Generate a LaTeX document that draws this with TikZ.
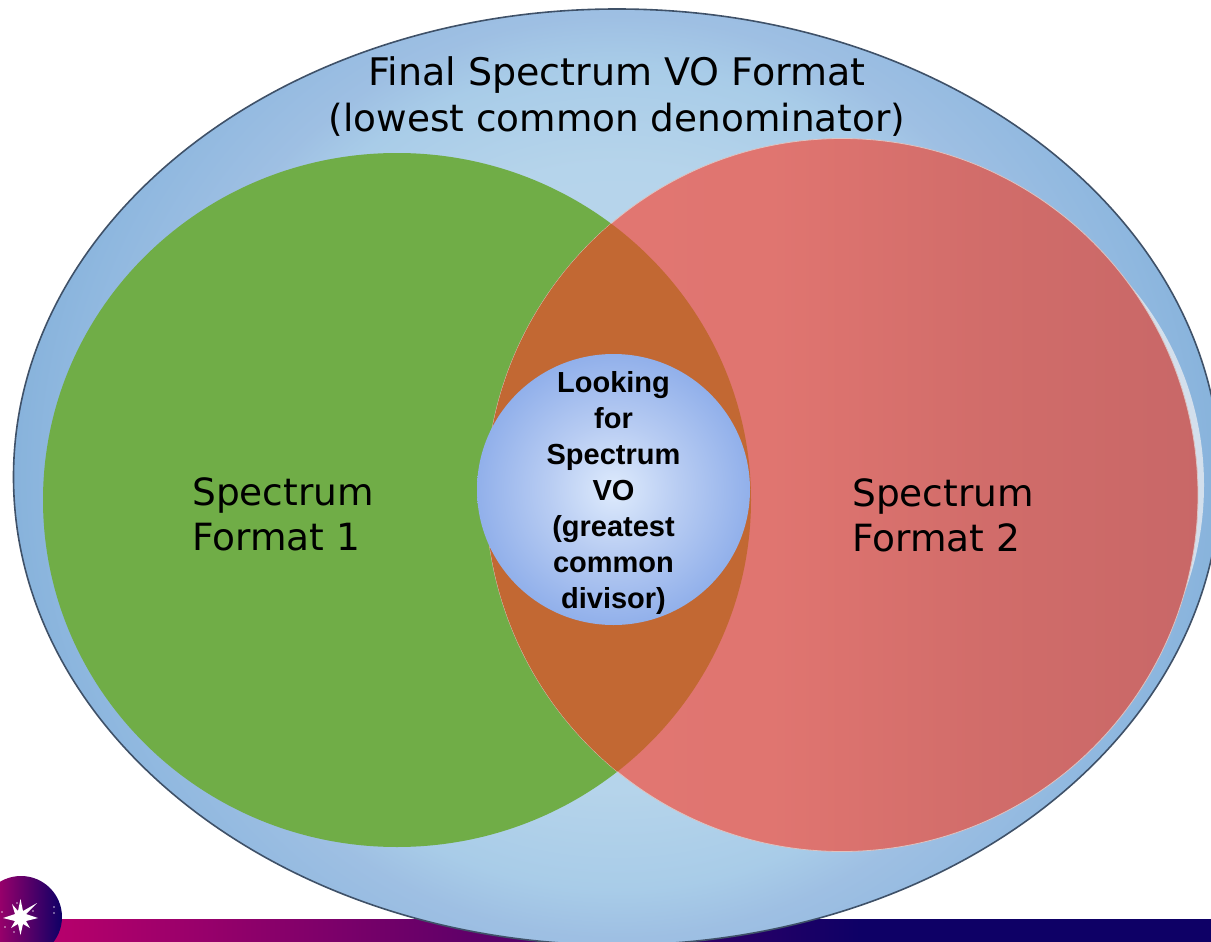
\documentclass[tikz,border=0pt]{standalone}
\usepackage{fontspec}
\setmainfont{DejaVu Sans}
\newfontfamily\boldarial{Liberation Sans}[BoldFont={Liberation Sans Bold}]
\usetikzlibrary{shapes.geometric}
\definecolor{greenfill}{HTML}{70AD47}
\definecolor{orangefill}{HTML}{C26833}
\definecolor{crescent}{HTML}{D3DFEC}
\definecolor{ringline}{HTML}{3F5168}
\definecolor{fringe}{HTML}{DDC3C1}
\definecolor{magenta}{HTML}{C2006C}
\definecolor{navy}{HTML}{0E0066}
\pgfdeclareradialshading{bigshade}{\pgfpoint{0bp}{0bp}}{
  rgb(0bp)=(0.74,0.85,0.93); rgb(13bp)=(0.71,0.83,0.92); rgb(17bp)=(0.66,0.80,0.91); rgb(19bp)=(0.62,0.75,0.89); rgb(23bp)=(0.56,0.72,0.875); rgb(25bp)=(0.53,0.70,0.86); rgb(50bp)=(0.53,0.70,0.86)}
\pgfdeclareradialshading{innershade}{\pgfpoint{0bp}{0bp}}{
  rgb(0bp)=(0.87,0.92,0.99); rgb(12bp)=(0.72,0.80,0.95); rgb(25bp)=(0.57,0.69,0.92); rgb(50bp)=(0.57,0.69,0.92)}
\pgfdeclarehorizontalshading{redshade}{100bp}{
  rgb(0bp)=(0.885,0.465,0.445); rgb(25bp)=(0.885,0.465,0.445); rgb(45bp)=(0.878,0.459,0.44); rgb(60bp)=(0.82,0.425,0.415); rgb(75bp)=(0.785,0.405,0.405); rgb(100bp)=(0.785,0.405,0.405)}
\tikzset{
  titleone/.style={font=\fontsize{38}{44.5}\selectfont, text=black, inner sep=0pt},
  titletwo/.style={font=\fontsize{37.4}{44.5}\selectfont, text=black, inner sep=0pt},
  sidetext/.style={font=\fontsize{37.5}{45}\selectfont, text=black, inner sep=0pt, align=left, anchor=west},
  innertext/.style={font=\boldarial\bfseries\fontsize{29}{36}\selectfont, text=black, inner sep=0pt, align=center},
  bluering/.style={ellipse, inner sep=0pt, minimum width=1207pt, minimum height=936pt, draw=ringline, line width=1.6pt,
    path picture={\shade[shading=bigshade] (path picture bounding box.center) circle [radius=606pt];}},
}
\begin{document}
\begin{tikzpicture}[x=1pt,y=-1pt]
\useasboundingbox (0,0) rectangle (1211,942);
% footer band
\fill[left color=magenta, right color=navy] (0,919) rectangle (860,942);
\fill[navy] (859,919) rectangle (1211,942);
% logo
\begin{scope}
\clip (0,0) rectangle (1211,942);
\shade[left color=magenta, right color=navy] (21,917) circle [radius=41];
\fill[white] (20.5,899) -- (23,911) -- (37,903) -- (26,914) -- (38,918) -- (26,921) -- (30,928) -- (23,924) -- (20.5,935) -- (18,924) -- (11,928) -- (15,921) -- (3,918) -- (15,914) -- (12,904) -- (18,911) -- cycle;
\foreach \px/\py in {54/907,54/913,17/903,2/912,5/927,14/932,33/911}
  \fill[white,opacity=.75] (\px,\py) circle [radius=.8];
\end{scope}
% outer ellipse
\node[bluering] (outer) at (617,477) {};
% green
\fill[greenfill] (397,500) ellipse [x radius=354, y radius=347];
% red and crescent
\fill[crescent] (897,485) circle [radius=307];
\shade[shading=redshade, draw=fringe, line width=.8pt] (842,495) ellipse [x radius=356, y radius=356.5];
% overlap
\begin{scope}
\clip (397,500) ellipse [x radius=354, y radius=347];
\fill[orangefill] (842,495) ellipse [x radius=356, y radius=356.5];
\end{scope}
% inner circle
\node[ellipse, inner sep=0pt, minimum width=273pt, minimum height=271pt, shading=innershade] (core) at (613.5,489.5) {};
% labels
\node[titleone] (titlea) at (617,75.5) {Final Spectrum VO Format};
\node[titletwo] (titleb) at (617,120) {(lowest common denominator)};
\node[sidetext] (fmta) at (192,514) {Spectrum\\Format 1};
\node[sidetext] (fmtb) at (852,515) {Spectrum\\Format 2};
\node[innertext] (coretext) at (613.5,493) {Looking\\for\\Spectrum\\VO\\(greatest\\common\\divisor)};
\end{tikzpicture}
\end{document}
